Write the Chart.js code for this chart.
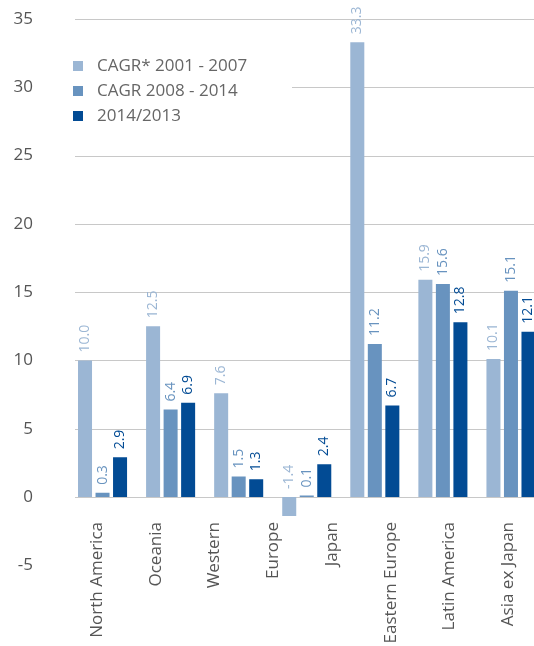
<!DOCTYPE html>
<html><head><meta charset="utf-8">
<script src="https://cdn.jsdelivr.net/npm/chart.js@4"></script>
<style>
html,body{margin:0;padding:0;overflow:hidden;background:#fff;width:534px;height:646px}
#wrap{position:absolute;left:0;top:0;width:545px;height:646px}
</style></head><body><div id="wrap"><canvas id="c" width="545" height="646"></canvas></div>
<script>
const groups = ['North America','Oceania','Western Europe','Japan','Eastern Europe','Latin America','Asia ex Japan'];
const axisLabels = ['North America','Oceania','Western','Europe','Japan','Eastern Europe','Latin America','Asia ex Japan'];
const seriesNames = ['CAGR* 2001 - 2007','CAGR 2008 - 2014','2014/2013'];
const cagr0107 = [10.0,12.5,7.6,-1.4,33.3,15.9,10.1];
const cagr0814 = [0.3,6.4,1.5,0.1,11.2,15.6,15.1];
const yoy1413 = [2.9,6.9,1.3,2.4,6.7,12.8,12.1];
const yMin = -5, yMax = 35, yStep = 5;
const labelAxisMin = -0.489, labelAxisMax = 7.629;
const colors = ['#9bb6d4','#6893bf','#024b94'];
const FONT = '"Open Sans", "Noto Sans", sans-serif';

const gridPlugin = {
  id:'gridLines',
  beforeDatasetsDraw(chart){
    const ctx=chart.ctx, ys=chart.scales.y, ca=chart.chartArea;
    ctx.save();
    ctx.strokeStyle='#c8c8c8'; ctx.lineWidth=1;
    ys.ticks.forEach(t=>{
      if(t.value<0) return;
      const y=Math.round(ys.getPixelForValue(t.value))+0.5;
      ctx.beginPath(); ctx.moveTo(75,y); ctx.lineTo(ca.right,y); ctx.stroke();
    });
    ctx.restore();
  }
};
const valueLabels = {
  id:'valueLabels',
  afterDatasetsDraw(chart){
    const ctx=chart.ctx;
    chart.data.datasets.forEach((ds,di)=>{
      const meta=chart.getDatasetMeta(di);
      meta.data.forEach((bar,i)=>{
        const v=ds.data[i];
        const ya=Math.min(bar.y,bar.base)-8;
        ctx.save();
        ctx.translate(bar.x,ya); ctx.rotate(-Math.PI/2);
        ctx.font='14px '+FONT; ctx.fillStyle=ds.backgroundColor;
        ctx.textAlign='left'; ctx.textBaseline='middle';
        ctx.fillText(v.toFixed(1),0,0);
        ctx.restore();
      });
    });
  }
};
const axisLabelPlugin = {
  id:'rotatedAxisLabels',
  afterDraw(chart){
    const ctx=chart.ctx, xs=chart.scales.x2;
    ctx.save();
    ctx.font='17px '+FONT; ctx.fillStyle='#555';
    ctx.textAlign='right'; ctx.textBaseline='middle';
    axisLabels.forEach((lab,i)=>{
      ctx.save();
      ctx.translate(xs.getPixelForValue(i),522); ctx.rotate(-Math.PI/2);
      ctx.fillText(lab,0,0);
      ctx.restore();
    });
    ctx.restore();
  }
};
const legendPlugin = {
  id:'insideLegend',
  afterDraw(chart){
    const ctx=chart.ctx;
    ctx.save();
    ctx.fillStyle='#fff'; ctx.fillRect(70,52,222,76);
    chart.data.datasets.forEach((ds,i)=>{
      ctx.fillStyle=ds.backgroundColor;
      ctx.fillRect(73,61+i*25,10,10);
      ctx.fillStyle='#666'; ctx.font='17px '+FONT;
      ctx.textAlign='left'; ctx.textBaseline='middle';
      ctx.fillText(ds.label,97,66+i*25);
    });
    ctx.restore();
  }
};

new Chart(document.getElementById('c'),{
  type:'bar',
  data:{
    labels:groups,
    datasets:[
      {label:seriesNames[0],data:cagr0107,backgroundColor:colors[0]},
      {label:seriesNames[1],data:cagr0814,backgroundColor:colors[1]},
      {label:seriesNames[2],data:yoy1413,backgroundColor:colors[2]}
    ]
  },
  options:{
    responsive:false, animation:false, devicePixelRatio:1,
    layout:{padding:{top:19,left:0,right:0,bottom:80.75}},
    datasets:{bar:{categoryPercentage:0.772,barPercentage:0.8}},
    plugins:{legend:{display:false},tooltip:{enabled:false}},
    scales:{
      x:{type:'category',display:false,offset:true},
      x2:{type:'linear',position:'bottom',display:false,offset:false,
        min:labelAxisMin,max:labelAxisMax,bounds:'data'},
      y:{min:yMin,max:yMax,
        grid:{display:false,drawTicks:false},border:{display:false},
        afterFit(s){s.width=68.5;s.paddingTop=0;s.paddingBottom=0;},
        ticks:{stepSize:yStep,padding:35.5,color:'#555',font:{family:FONT,size:17}}}
    }
  },
  plugins:[gridPlugin,valueLabels,axisLabelPlugin,legendPlugin]
});
</script></body></html>
